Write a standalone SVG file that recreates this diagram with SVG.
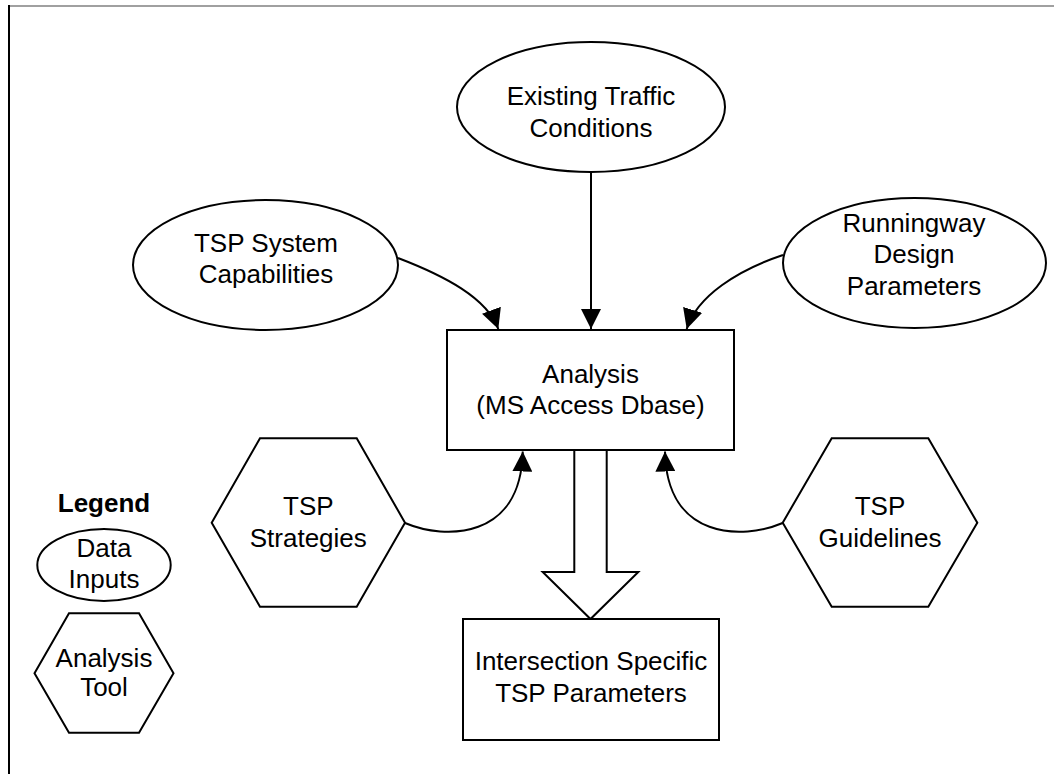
<svg xmlns="http://www.w3.org/2000/svg" width="1054" height="774" viewBox="0 0 1054 774">
<style>
.s{fill:#fff;stroke:#000;stroke-width:2}
.t{font-family:"Liberation Sans",Arial,sans-serif;font-size:26px;fill:#000;text-anchor:middle}
.b{font-weight:bold}
.c{fill:none;stroke:#000;stroke-width:2}
</style>
<defs>
<marker id="ah" markerUnits="userSpaceOnUse" markerWidth="20" markerHeight="20" refX="20" refY="10" orient="auto" viewBox="0 0 20 20">
<path d="M0,0 L20,10 L0,20 z" fill="#000"/>
</marker>
</defs>
<rect width="1054" height="774" fill="#fff"/>
<line x1="9" y1="6" x2="1054" y2="6" stroke="#808080" stroke-width="1.5"/>
<line x1="9" y1="5" x2="9" y2="774" stroke="#000" stroke-width="2"/>

<g id="connectors">
<path class="c" d="M398,258 C445,276 487,298 498.3,329" marker-end="url(#ah)"/>
<path class="c" d="M591,172 L591,329" marker-end="url(#ah)"/>
<path class="c" d="M783,255 C738,270 697,296 686.7,329" marker-end="url(#ah)"/>
<path class="c" d="M405,523 C445,540 521,540 522.7,451.5" marker-end="url(#ah)"/>
<path class="c" d="M782.7,523 C742.7,540 666.7,540 665,451.5" marker-end="url(#ah)"/>
<polygon id="flow-arrow" class="s" points="574.3,450 606.7,450 606.7,572 638.3,572 590.5,619 542.7,572 574.3,572"/>
</g>

<g id="existing">
<ellipse class="s" cx="591" cy="107" rx="134" ry="65"/>
<text class="t" x="591" y="105">Existing Traffic</text>
<text class="t" x="591" y="137">Conditions</text>
</g>
<g id="tsp-system">
<ellipse class="s" cx="265.5" cy="265" rx="132.5" ry="65"/>
<text class="t" x="266" y="252">TSP System</text>
<text class="t" x="266" y="282.5">Capabilities</text>
</g>
<g id="runningway">
<ellipse class="s" cx="914.5" cy="263" rx="131.5" ry="65"/>
<text class="t" x="914" y="232">Runningway</text>
<text class="t" x="914" y="263">Design</text>
<text class="t" x="914" y="295">Parameters</text>
</g>
<g id="analysis">
<rect class="s" x="447" y="330" width="287" height="120"/>
<text class="t" x="590.5" y="383">Analysis</text>
<text class="t" x="590.5" y="414">(MS Access Dbase)</text>
</g>
<g id="strategies">
<polygon class="s" points="260,438.3 356.7,438.3 405,522.7 356.7,606.7 260,606.7 211.7,522.7"/>
<text class="t" x="308.3" y="515">TSP</text>
<text class="t" x="308.3" y="546.7">Strategies</text>
</g>
<g id="guidelines">
<polygon class="s" points="831.7,438.3 928.3,438.3 977.3,522.7 928.3,606.7 831.7,606.7 782.7,522.7"/>
<text class="t" x="880" y="515">TSP</text>
<text class="t" x="880" y="547">Guidelines</text>
</g>
<g id="output">
<rect class="s" x="463" y="619" width="256" height="121"/>
<text class="t" x="591" y="670">Intersection Specific</text>
<text class="t" x="591" y="701.7">TSP Parameters</text>
</g>
<g id="legend">
<text class="t b" x="104" y="512.3">Legend</text>
<g id="legend-data">
<ellipse class="s" cx="104" cy="565" rx="66.7" ry="36"/>
<text class="t" x="104" y="556.7">Data</text>
<text class="t" x="104" y="588.3">Inputs</text>
</g>
<g id="legend-tool">
<polygon class="s" points="69,613.3 139,613.3 173.5,673.3 139,732.7 69,732.7 34.5,673.3"/>
<text class="t" x="104" y="666.7">Analysis</text>
<text class="t" x="104" y="696">Tool</text>
</g>
</g>
</svg>
